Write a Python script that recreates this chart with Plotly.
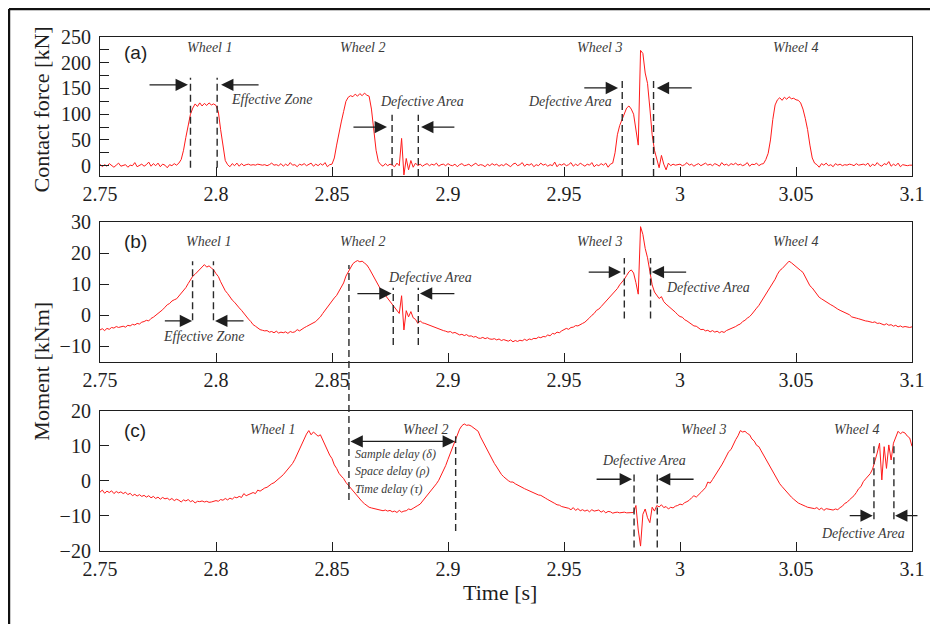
import numpy as np
import plotly.graph_objects as go

# ---------------- data (sampled every 1 ms, 2.750 s ... 3.100 s) ----------------
N_SAMPLES = 351
time_s = np.round(2.75 + 0.001 * np.arange(N_SAMPLES), 3)

force_kN = [
    3, -2, 2, -1, 4, 0, -3, 1, 5, -1,
    0, 2, -3, 1, 0, 6, -2, 1, 3, -1,
    2, 7, -1, 4, 0, 5, -2, 3, 1, -4,
    2, 0, 4, 1, 5, 12, 30, 55, 80, 100,
    112, 120, 115, 122, 116, 121, 117, 122, 118, 120,
    117, 105, 70, 35, 10, 2, -2, 4, 0, 5,
    -1, 4, 0, 2, 3, 1, 2, 1, 3, 2,
    1, 2, 0, 2, 5, 1, 2, 0, 4, -1,
    3, 0, 6, 1, 2, -2, 3, 1, 4, 0,
    2, 5, -1, 3, 0, 4, 1, 6, -2, 2,
    3, 15, 40, 65, 85, 105, 125, 133, 136, 134,
    139, 135, 140, 136, 141, 137, 135, 110, 70, 30,
    8, 2, -1, 4, 0, 3, 1, -2, 5, 0,
    53, -18, 14, -8, 10, -3, 5, 0, 3, -1,
    2, 4, 0, 3, 1, 5, -1, 2, 3, 0,
    4, 1, 0, 3, -2, 2, 4, 0, 1, 3,
    -1, 2, 5, 0, 2, 1, -2, 3, 0, 4,
    1, 3, -1, 2, 0, 4, 1, -2, 3, 5,
    0, 2, 6, -1, 3, 1, 4, -2, 2, 0,
    5, 1, 3, -1, 2, 0, 7, -2, 3, 1,
    4, 0, 2, 6, -1, 3, 0, 5, 2, -1,
    3, 1, 6, -2, 2, 0, 4, 1, 5, -3,
    3, 5, 25, 60, 78, 89, 100, 112, 116, 110,
    100, 70, 40, 224, 218, 180, 160, 112, 60, 30,
    14, -4, 20, 3, -8, 5, 0, 3, 1, 2,
    3, 0, 2, 6, 1, 3, -1, 2, 4, 0,
    2, 5, 1, 3, 0, 4, 2, -1, 6, 1,
    3, 0, 4, 2, 5, 1, 3, 0, 2, 6,
    -1, 3, 2, 5, 0, 3, 4, 12, 24, 50,
    90, 118, 128, 132, 127, 133, 129, 134, 130, 131,
    128, 127, 122, 110, 92, 70, 40, 15, 5, 2,
    -3, 4, 1, 5, 0, 2, -2, 4, 1, 3,
    0, 2, 1, 3, 2, 0, 4, 1, 2, 3,
    1, 5, -2, 3, 0, 6, 1, -1, 4, 2,
    8, -1, 3, 0, 5, -2, 2, 1, 0, 1,
    1,
]

moment_b_kNm = [
    -4.7, -4.3, -4.9, -4.2, -4.5, -3.9, -4.1, -3.6, -3.9, -3.7,
    -3.5, -3.8, -3.2, -3.4, -2.9, -3.1, -2.6, -2.8, -2.2, -2.0,
    -1.6, -1.8, -1.0, -0.6, 0.0, 0.4, 0.9, 1.8, 2.6, 3.4,
    3.8, 4.6, 5.0, 5.3, 6.2, 7.0, 8.0, 8.9, 10.2, 11.4,
    12.6, 13.2, 14.0, 14.7, 15.4, 16.3, 15.5, 15.9, 15.2, 14.6,
    13.4, 12.5, 10.8, 9.2, 7.9, 7.0, 5.8, 4.9, 4.2, 3.2,
    2.4, 1.6, 0.6, -0.3, -1.2, -2.0, -3.0, -3.5, -4.2, -4.6,
    -4.8, -5.0, -4.9, -5.4, -5.2, -5.6, -5.1, -5.7, -5.4, -5.6,
    -5.3, -5.8, -5.2, -5.5, -5.3, -4.6, -5.0, -4.4, -4.0, -3.6,
    -3.2, -3.0, -2.4, -2.0, -1.2, -0.5, 0.6, 1.6, 2.4, 3.6,
    4.8, 5.6, 6.4, 7.6, 8.9, 10.4, 12.6, 13.9, 15.2, 16.6,
    17.2, 17.6, 17.2, 17.4, 16.8, 16.2, 15.1, 13.7, 12.2, 10.6,
    9.4, 8.3, 7.4, 6.4, 5.6, 4.6, 3.4, 2.6, 1.6, 0.6,
    6.3, -4.7, 1.5, -0.5, 1.2, -0.8, -1.3, -2.6, -1.8, -2.4,
    -2.6, -2.9, -3.2, -3.6, -3.8, -4.1, -4.5, -4.7, -4.9, -5.1,
    -5.4, -5.2, -5.7, -5.5, -6.0, -6.3, -6.1, -6.5, -6.2, -6.7,
    -6.6, -7.0, -6.8, -7.3, -7.4, -7.1, -7.5, -7.2, -7.6, -7.7,
    -7.5, -7.9, -7.6, -8.1, -7.8, -8.0, -8.3, -7.9, -8.5, -8.1,
    -8.4, -8.0, -8.2, -7.7, -8.1, -7.6, -7.8, -7.4, -7.5, -7.0,
    -7.2, -6.8, -6.9, -6.3, -6.6, -5.8, -6.0, -5.4, -5.6, -5.0,
    -4.6, -4.2, -4.5, -3.9, -3.8, -3.3, -3.4, -2.9, -2.6, -2.2,
    -1.6, -0.8, 0.0, 0.6, 1.6, 2.0, 2.8, 3.6, 4.4, 5.4,
    6.2, 7.0, 7.8, 8.6, 9.8, 10.6, 11.6, 12.8, 14.0, 14.6,
    13.6, 10.5, 6.8, 28.5, 26.0, 21.5, 18.5, 14.2, 9.8, 7.5,
    6.4, 5.4, 6.0, 4.4, 3.6, 3.0, 2.2, 1.6, 1.0, 0.2,
    -0.4, -0.6, -1.4, -1.8, -2.4, -3.0, -3.4, -3.5, -4.2, -4.6,
    -4.5, -5.0, -4.8, -5.3, -4.9, -5.4, -5.1, -5.6, -5.2, -5.5,
    -4.9, -4.6, -4.3, -3.9, -3.6, -3.1, -2.8, -2.0, -1.6, -0.9,
    -0.4, 0.4, 1.2, 2.3, 3.2, 4.4, 5.4, 6.4, 7.8, 8.8,
    10.2, 11.6, 13.2, 14.4, 15.0, 15.8, 16.6, 17.4, 16.9, 16.2,
    15.8, 15.0, 14.4, 13.8, 12.5, 11.0, 9.5, 8.8, 7.8, 6.6,
    5.8, 5.3, 4.8, 4.2, 3.7, 3.4, 3.0, 2.4, 2.0, 1.6,
    1.2, 0.9, 0.4, 0.2, -0.5, -0.6, -0.9, -1.1, -1.4, -1.6,
    -1.8, -1.9, -2.0, -2.3, -2.1, -2.6, -2.5, -2.8, -3.1, -2.7,
    -3.2, -3.0, -3.5, -3.2, -3.7, -3.4, -3.8, -3.6, -3.7, -3.9,
    -3.7,
]

moment_c_kNm = [
    -3.2, -2.6, -3.5, -2.9, -3.3, -2.8, -3.6, -3.0, -3.4, -3.1,
    -3.6, -3.2, -3.9, -3.5, -4.2, -3.8, -4.3, -3.9, -4.4, -4.1,
    -4.6, -4.2, -4.8, -4.4, -5.0, -4.6, -5.2, -4.7, -5.1, -4.9,
    -5.4, -5.0, -5.6, -5.2, -5.5, -6.0, -5.4, -5.7, -5.3, -5.9,
    -5.6, -6.3, -5.8, -5.9, -5.7, -6.0, -5.8, -6.1, -6.0, -5.9,
    -5.6, -5.8, -5.3, -5.5, -5.0, -5.4, -4.9, -5.2, -4.6, -4.8,
    -4.4, -4.7, -3.6, -4.2, -3.9, -3.7, -3.3, -3.6, -2.6, -2.9,
    -2.4, -2.0, -1.8, -1.2, -0.8, -0.5, 0.0, 0.6, 1.2, 1.8,
    2.6, 3.4, 4.2, 5.0, 6.2, 7.6, 9.0, 10.6, 12.2, 13.4,
    14.4, 13.2, 14.0, 13.5, 12.8, 13.2, 11.8, 10.2, 8.6, 7.4,
    6.4, 4.6, 3.6, 2.2, 1.4, 0.7, -0.4, -1.2, -2.1, -2.9,
    -3.8, -4.5, -5.4, -5.9, -6.5, -7.0, -7.5, -7.7, -7.9, -8.0,
    -8.2, -8.3, -8.5, -8.3, -8.6, -8.4, -8.8, -8.6, -9.0, -8.4,
    -8.9, -8.6, -8.5, -8.0, -8.2, -7.8, -7.5, -7.0, -6.6, -5.8,
    -5.1, -4.2, -3.4, -2.6, -1.7, -0.8, 0.2, 1.6, 2.8, 4.4,
    6.2, 8.0, 9.6, 11.6, 13.2, 14.8, 15.8, 16.3, 15.9, 16.0,
    15.7, 15.2, 14.6, 14.2, 12.6, 11.3, 10.0, 8.6, 7.6, 6.2,
    5.0, 4.0, 2.8, 1.9, 1.2, 0.6, 0.1, -0.3, -0.3, -0.8,
    -1.2, -1.5, -1.9, -2.2, -2.5, -2.8, -3.2, -3.3, -3.8, -4.0,
    -4.1, -4.6, -4.9, -5.3, -5.6, -6.1, -6.4, -6.8, -6.9, -7.3,
    -7.4, -7.6, -7.8, -8.2, -7.6, -8.4, -7.9, -8.5, -8.2, -8.6,
    -8.3, -8.8, -8.2, -8.6, -8.4, -8.3, -8.9, -8.5, -9.1, -8.7,
    -8.8, -9.2, -9.0, -8.9, -9.1, -9.0, -8.9, -9.1, -9.0, -9.0,
    -9.0, -7.0, -14.0, -18.6, -9.5, -8.0, -10.5, -11.9, -7.5, -8.6,
    -7.0, -7.4, -6.8, -7.6, -7.3, -8.0, -7.5, -7.7, -7.2, -7.0,
    -6.6, -6.8, -6.2, -5.9, -5.5, -4.8, -4.2, -4.6, -3.8, -3.3,
    -2.6, -1.9, -0.3, -0.6, 0.4, 1.4, 2.6, 3.6, 4.6, 5.8,
    7.0, 8.4, 9.0, 10.6, 11.8, 12.9, 14.4, 14.0, 14.2, 13.6,
    13.2, 12.0, 11.4, 10.2, 9.8, 8.6, 7.4, 6.4, 5.2, 4.2,
    2.6, 1.6, 0.6, -0.8, -1.6, -2.4, -3.3, -4.0, -4.6, -5.2,
    -5.8, -6.3, -6.6, -7.0, -7.2, -7.5, -7.6, -7.8, -7.9, -7.6,
    -8.2, -7.7, -8.4, -7.9, -8.1, -8.2, -8.3, -8.0, -8.2, -7.6,
    -7.2, -6.4, -6.1, -5.4, -4.8, -4.2, -3.3, -2.2, -1.6, -0.2,
    0.6, 1.4, 2.1, 3.4, 5.5, 8.0, 10.8, 0.3, 9.8, 3.6,
    10.3, 6.0, 10.8, 12.4, 14.2, 13.5, 14.0, 13.7, 12.8, 12.3,
    9.9,
]

x_tick_vals = [2.75, 2.8, 2.85, 2.9, 2.95, 3.0, 3.05, 3.1]
x_tick_text = ["2.75", "2.8", "2.85", "2.9", "2.95", "3", "3.05", "3.1"]
force_ticks = [0, 50, 100, 150, 200, 250]
moment_b_ticks = [-10, 0, 10, 20, 30]
moment_c_ticks = [-20, -10, 0, 10, 20]

assert len(force_kN) == N_SAMPLES and len(moment_b_kNm) == N_SAMPLES and len(moment_c_kNm) == N_SAMPLES

# ---------------- figure ----------------
SERIF = "Liberation Serif"
SANS = "Liberation Sans"
INK = "#1e1e1e"
TXT = "#3a3a3a"
RED = "#ff1a1a"

fig = go.Figure()
for ax, ser in (("", force_kN), ("2", moment_b_kNm), ("3", moment_c_kNm)):
    fig.add_trace(go.Scatter(x=time_s, y=ser, xaxis="x" + ax, yaxis="y" + ax,
                             mode="lines", line=dict(color=RED, width=1),
                             showlegend=False, hoverinfo="skip"))

dom = {"": [0.7296, 1.0], "2": [0.3677, 0.6401], "3": [0.0, 0.2724]}
yr = {"": [-20, 250], "2": [-15, 30], "3": [-20, 20]}
yt = {"": force_ticks, "2": moment_b_ticks, "3": moment_c_ticks}

# page body adds an 8 px offset, so the figure is 8 px smaller on each side
layout = dict(
    width=930, height=616,
    margin=dict(l=92, r=26, t=29, b=73),
    paper_bgcolor="white", plot_bgcolor="white",
    showlegend=False,
)
for ax in ("", "2", "3"):
    layout["xaxis" + ax] = dict(
        domain=[0, 1], anchor="y" + ax, range=[2.75, 3.1],
        tickmode="array", tickvals=x_tick_vals, ticktext=x_tick_text,
        ticks="inside", ticklen=9, tickwidth=1.2, tickcolor=INK,
        showline=True, mirror=True, linecolor=INK, linewidth=1.2,
        showgrid=False, zeroline=False, automargin=False,
        tickfont=dict(family=SERIF, size=20, color=INK),
    )
    ydef = dict(
        domain=dom[ax], anchor="x" + ax, range=yr[ax],
        tickmode="array", tickvals=yt[ax],
        ticks="inside", ticklen=9, tickwidth=1.2, tickcolor=INK,
        showline=True, mirror=True, linecolor=INK, linewidth=1.2,
        showgrid=False, zeroline=False, ticklabelstandoff=4, automargin=False,
        tickfont=dict(family=SERIF, size=20, color=INK),
    )
    if ax == "":
        ydef["minor"] = dict(tickmode="linear", tick0=0, dtick=25,
                             ticks="inside", ticklen=9, tickwidth=1.2,
                             tickcolor=INK, showgrid=False)
    layout["yaxis" + ax] = ydef
fig.update_layout(**layout)

annotations = []
shapes = []


def label(ax, t, v, text, size=14, xanchor="center"):
    annotations.append(dict(xref="x" + ax, yref="y" + ax, x=t, y=v, text="<i>" + text + "</i>",
                            showarrow=False, xanchor=xanchor, yanchor="middle",
                            font=dict(family=SERIF, size=size, color=TXT)))


def arrow(ax, t_head, t_tail, v, both=False):
    annotations.append(dict(xref="x" + ax, yref="y" + ax, x=t_head, y=v,
                            axref="x" + ax, ayref="y" + ax, ax=t_tail, ay=v,
                            text="", showarrow=True, arrowhead=2, arrowsize=1.9,
                            arrowwidth=1.3, arrowcolor=INK, standoff=0,
                            startarrowhead=2, startarrowsize=1.9,
                            arrowside="end+start" if both else "end"))


def dashed(ax, t, v0, v1):
    shapes.append(dict(type="line", xref="x" + ax, yref="y" + ax, x0=t, x1=t, y0=v0, y1=v1,
                       line=dict(color="#2a2a2a", width=1.4, dash="7px,4px")))


# panel (a)
label("", 2.797, 230, "Wheel 1")
label("", 2.8631, 230, "Wheel 2")
label("", 2.9655, 230, "Wheel 3")
label("", 3.0496, 230, "Wheel 4")
dashed("", 2.789, -4, 171)
dashed("", 2.8005, -4, 171)
arrow("", 2.7879, 2.7707, 157)
arrow("", 2.8022, 2.819, 157)
label("", 2.8055, 128, "Effective Zone", xanchor="left")
dashed("", 2.8759, -20, 99)
dashed("", 2.8872, -20, 99)
arrow("", 2.8737, 2.8586, 75)
arrow("", 2.8884, 2.9034, 75)
label("", 2.8888, 125, "Defective Area")
dashed("", 2.9751, -20, 171)
dashed("", 2.9886, -20, 171)
arrow("", 2.9733, 2.9581, 151)
arrow("", 2.99, 3.0057, 151)
label("", 2.9526, 125, "Defective Area")

# panel (b)
label("2", 2.7967, 23.7, "Wheel 1")
label("2", 2.863, 23.7, "Wheel 2")
label("2", 2.9655, 23.7, "Wheel 3")
label("2", 3.0496, 23.7, "Wheel 4")
dashed("2", 2.7899, -1.6, 17.4)
dashed("2", 2.7989, -1.6, 17.4)
arrow("2", 2.7897, 2.7773, -1.8)
arrow("2", 2.7996, 2.8125, -1.8)
label("2", 2.7945, -6.8, "Effective Zone")
dashed("2", 2.8764, -9.5, 8.9)
dashed("2", 2.8872, -9.5, 8.9)
arrow("2", 2.8757, 2.8603, 7.0)
arrow("2", 2.8879, 2.9034, 7.0)
label("2", 2.8922, 12.1, "Defective Area")
dashed("2", 2.976, -1.0, 18.4)
dashed("2", 2.9873, -1.0, 18.4)
arrow("2", 2.9746, 2.96, 13.9)
arrow("2", 2.9878, 3.0033, 13.9)
label("2", 3.012, 9.1, "Defective Area")

# long dashed line from panel (b) down into panel (c)
shapes.append(dict(type="line", xref="x2", yref="paper", x0=2.8573, x1=2.8573,
                   y0=0.0992, y1=0.5564,
                   line=dict(color="#2a2a2a", width=1.4, dash="7px,4px")))

# panel (c)
label("3", 2.8243, 14.7, "Wheel 1")
label("3", 2.8905, 14.7, "Wheel 2")
label("3", 3.0103, 14.7, "Wheel 3")
label("3", 3.0759, 14.7, "Wheel 4")
arrow("3", 2.903, 2.8573, 11.3, both=True)
dashed("3", 2.9033, -14.3, 12.8)
label("3", 2.859, 7.6, "Sample delay (δ)", size=12, xanchor="left")
label("3", 2.859, 2.8, "Space delay (ρ)", size=12, xanchor="left")
label("3", 2.859, -2.2, "Time delay (τ)", size=12, xanchor="left")
dashed("3", 2.9802, -19, 2.6)
dashed("3", 2.9902, -19, 2.6)
arrow("3", 2.9793, 2.9634, 0.5)
arrow("3", 2.9905, 3.0065, 0.5)
label("3", 2.9843, 5.8, "Defective Area")
dashed("3", 3.0836, -10.9, 10.8)
dashed("3", 3.0922, -10.9, 10.8)
arrow("3", 3.0831, 3.0725, -9.9)
arrow("3", 3.0927, 3.103, -9.9)
label("3", 3.0787, -15, "Defective Area")

# panel letters
for txt, yp in (("(a)", 0.969), ("(b)", 0.6018), ("(c)", 0.2354)):
    annotations.append(dict(xref="paper", yref="paper", x=0.027, y=yp, text=txt,
                            showarrow=False, xanchor="left", yanchor="middle",
                            font=dict(family=SANS, size=19, color=INK)))

# axis titles
annotations.append(dict(xref="paper", yref="paper", x=-0.072, y=0.858,
                        text="Contact force [kN]", textangle=-90, showarrow=False,
                        xanchor="center", yanchor="middle",
                        font=dict(family=SERIF, size=22, color=INK)))
annotations.append(dict(xref="paper", yref="paper", x=-0.072, y=0.350,
                        text="Moment [kNm]", textangle=-90, showarrow=False,
                        xanchor="center", yanchor="middle",
                        font=dict(family=SERIF, size=22, color=INK)))
annotations.append(dict(xref="paper", yref="paper", x=0.4926, y=-0.0817,
                        text="Time [s]", showarrow=False,
                        xanchor="center", yanchor="middle",
                        font=dict(family=SERIF, size=22, color=INK)))

# outer frame (left and top edges)
shapes.append(dict(type="line", xref="paper", yref="paper", x0=-0.1121, x1=-0.1121,
                   y0=-0.2, y1=1.0545, line=dict(color="#111111", width=2.5)))
shapes.append(dict(type="line", xref="paper", yref="paper", x0=-0.1121, x1=1.05,
                   y0=1.0545, y1=1.0545, line=dict(color="#111111", width=2.5)))

fig.update_layout(annotations=annotations, shapes=shapes)
fig.write_html("out.html")
